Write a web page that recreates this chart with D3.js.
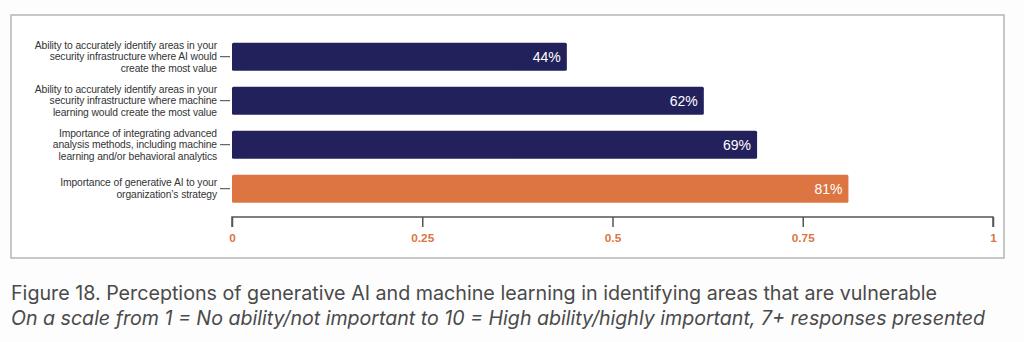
<!DOCTYPE html>
<html>
<head>
<meta charset="utf-8">
<script src="https://cdn.jsdelivr.net/npm/d3@7"></script>
<style>
  html, body { margin: 0; padding: 0; background: #fdfdfd; }
  svg { display: block; }
</style>
</head>
<body>
<svg id="chart" width="1024" height="342"></svg>
<script>
// ---- data ----
const categories = [
  ["Ability to accurately identify areas in your", "security infrastructure where AI would", "create the most value"],
  ["Ability to accurately identify areas in your", "security infrastructure where machine", "learning would create the most value"],
  ["Importance of integrating advanced", "analysis methods, including machine", "learning and/or behavioral analytics"],
  ["Importance of generative AI to your", "organization\u2019s strategy"]
];
const values = [0.44, 0.62, 0.69, 0.81];
const valueLabels = ["44%", "62%", "69%", "81%"];
const highlight = [false, false, false, true];
const tickValues = [0, 0.25, 0.5, 0.75, 1];
const tickLabels = ["0", "0.25", "0.5", "0.75", "1"];
const captionTitle = "Figure 18. Perceptions of generative AI and machine learning in identifying areas that are vulnerable";
const captionSub = "On a scale from 1 = No ability/not important to 10 = High ability/highly important, 7+ responses presented";

// ---- drawing ----
const svg = d3.select("#chart");
const navy = "#23215B", orange = "#DC7541";

svg.append("rect").attr("x", 11).attr("y", 15).attr("width", 993).attr("height", 243)
  .attr("fill", "#fff").attr("stroke", "#b5b5b5").attr("stroke-width", 1.5);

const x = d3.scaleLinear().domain([0, 1]).range([232, 993]);
const idx = d3.range(categories.length);
const y = d3.scaleBand().domain(idx).range([20.7, 224.7]).paddingInner(0.364).paddingOuter(0.5);

// bars
svg.append("g").selectAll("rect").data(idx).join("rect")
  .attr("x", x(0))
  .attr("y", i => y(i))
  .attr("width", i => x(values[i]) - x(0))
  .attr("height", y.bandwidth())
  .attr("rx", 1.5)
  .attr("fill", i => highlight[i] ? orange : navy);

// value labels
svg.append("g").selectAll("text").data(idx).join("text")
  .attr("x", i => x(values[i]) - 6)
  .attr("y", i => y(i) + y.bandwidth() / 2)
  .attr("dy", "0.35em")
  .attr("text-anchor", "end")
  .attr("fill", "#fff")
  .style("font-family", "'Liberation Sans', Arial, sans-serif")
  .style("font-size", "14px")
  .text(i => valueLabels[i]);

// y axis labels with small ticks
const yg = svg.append("g");
idx.forEach(i => {
  const cy = y(i) + y.bandwidth() / 2;
  yg.append("line").attr("x1", 220).attr("x2", 230).attr("y1", cy).attr("y2", cy)
    .attr("stroke", "#444").attr("stroke-width", 1);
  const lines = categories[i];
  const lh = 11.7;
  const t = yg.append("text")
    .attr("text-anchor", "end")
    .attr("fill", "#333")
    .style("font-family", "'Liberation Sans', Arial, sans-serif")
    .style("font-size", "10.3px")
    .style("letter-spacing", "-0.1px");
  lines.forEach((ln, k) => {
    t.append("tspan").attr("x", 217)
      .attr("y", cy + (k - (lines.length - 1) / 2) * lh)
      .attr("dy", "0.35em")
      .text(ln);
  });
});

// x axis
const axis = d3.axisBottom(x).tickValues(tickValues).tickSize(10)
  .tickFormat((d, i) => tickLabels[i]);
const xg = svg.append("g").attr("transform", "translate(0,217)").call(axis);
xg.select(".domain").attr("stroke", "#555").attr("stroke-width", 1.5)
  .attr("d", `M${x(0)},10V0H${x(1)}V10`);
xg.selectAll(".tick line").attr("stroke", "#555").attr("stroke-width", 1.5);
xg.selectAll(".tick text")
  .attr("y", 21)
  .attr("dy", "0.35em")
  .attr("fill", orange)
  .style("font-family", "'Liberation Sans Narrow', 'Liberation Sans', Arial, sans-serif")
  .style("font-weight", "bold")
  .style("font-size", "11.8px");

// caption
svg.append("text").attr("x", 11).attr("y", 300)
  .attr("fill", "#4a4a4a")
  .style("font-family", "Inter, 'Noto Sans', sans-serif")
  .style("font-size", "19.5px")
  .attr("textLength", 926).attr("lengthAdjust", "spacingAndGlyphs")
  .text(captionTitle);
svg.append("text").attr("x", 11).attr("y", 325)
  .attr("fill", "#4a4a4a")
  .style("font-family", "Inter, 'Noto Sans', sans-serif")
  .style("font-style", "italic")
  .style("font-size", "19.5px")
  .attr("textLength", 974).attr("lengthAdjust", "spacingAndGlyphs")
  .text(captionSub);
</script>
</body>
</html>
